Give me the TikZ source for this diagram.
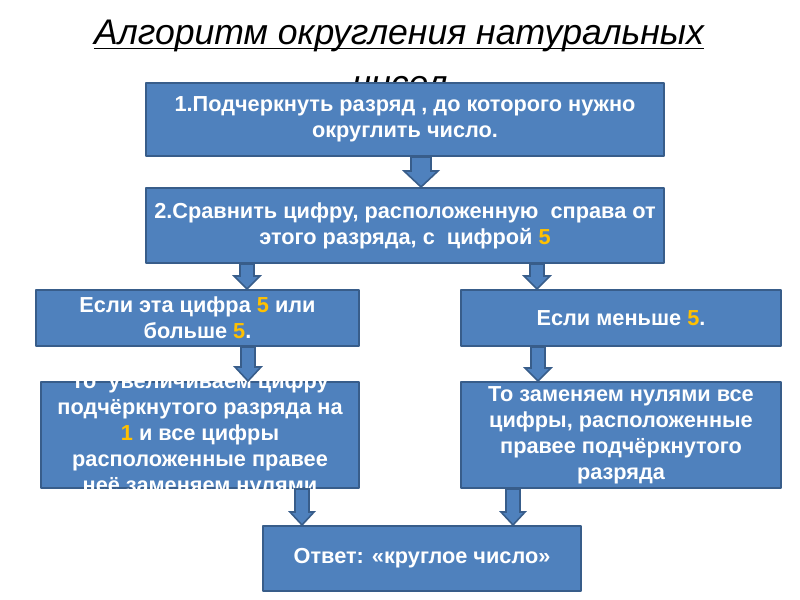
\documentclass[tikz,border=0pt]{standalone}
\usepackage{fontspec}
\setmainfont{Liberation Sans}
\usetikzlibrary{calc}
\definecolor{boxfill}{HTML}{4F81BD}
\definecolor{boxline}{HTML}{385D8A}
\definecolor{yel}{HTML}{FFC000}
\newdimen\px \px=0.75pt
\newcommand{\yl}[1]{\textcolor{yel}{#1}}
\tikzset{
  box/.style={rectangle,fill=boxfill,draw=boxline,line width=1.5pt,anchor=north west,inner sep=0pt},
  txt/.style={text=white,font=\bfseries\fontsize{16.3}{19.6}\selectfont,align=center,inner sep=0pt},
  blockarr/.style={fill=boxfill,draw=boxline,line width=1.2pt,line join=miter}
}
\begin{document}
\begin{tikzpicture}[x=.75pt,y=-.75pt,line join=round]
	\useasboundingbox (0,0) rectangle (800,600);
	% tiêu đề (dòng thứ hai nằm dưới khối 1)
	\node[inner sep=0pt,font=\itshape\fontsize{26.7}{32}\selectfont,anchor=base] (tl1) at (399,44) {Алгоритм округления натуральных};
	\node[inner sep=0pt,font=\itshape\fontsize{26.7}{32}\selectfont,anchor=base] (tl2) at (400,95) {чисел};
	\draw[line width=1.1pt] ([yshift=-3.2pt]tl1.base west) -- ([yshift=-3.2pt]tl1.base east);
	\draw[line width=1.1pt] ([yshift=-3.2pt]tl2.base west) -- ([yshift=-3.2pt]tl2.base east);
	% các khối
	\node[box,minimum width=518\px,minimum height=73\px] (b1) at (145,82) {};
	\node[box,minimum width=518\px,minimum height=75\px] (b2) at (145,187) {};
	\node[box,minimum width=323\px,minimum height=56\px] (b3l) at (35,289) {};
	\node[box,minimum width=320\px,minimum height=56\px] (b3r) at (460,289) {};
	\node[box,minimum width=318\px,minimum height=106\px] (b4l) at (40,381) {};
	\node[box,minimum width=320\px,minimum height=106\px] (b4r) at (460,381) {};
	\node[box,minimum width=318\px,minimum height=65\px] (b5) at (262,525) {};
	% chữ trong khối
	\node[txt] (t1) at (b1) {1.Подчеркнуть разряд , до которого нужно\\округлить число.};
	\node[txt] (t2) at (b2) {2.Сравнить цифру, расположенную\ \ справа от\\этого разряда, с\ \ цифрой \yl{5}};
	\node[txt] (t3l) at (b3l) {Если эта цифра \yl{5} или\\больше \yl{5}.};
	\node[txt] (t3r) at (b3r) {Если меньше \yl{5}.};
	\node[txt] (t4l) at (b4l) {То\ \ увеличиваем цифру\\подчёркнутого разряда на\\\yl{1} и все цифры\\расположенные правее\\неё заменяем нулями};
	\node[txt] (t4r) at (b4r) {То заменяем нулями все\\цифры, расположенные\\правее подчёркнутого\\разряда};
	\node[txt] (t5) at (b5) {Ответ: «круглое число»};
	% mũi tên khối
	\foreach \x/\a/\b/\w/\h/\l in {421/b1/b2/10/17/16,247/b2/b3l/7/13/13,537/b2/b3r/7/13/13,
		248/b3l/b4l/7/13/14,538/b3r/b4r/7/13/13,302/b4l/b5/7/12/13,513/b4r/b5/7/12/13}{
		\draw[blockarr] (\a.south -| \x,0) ++(-\w,0) -- ++(2*\w,0)
			-- ($(\b.north -| \x,0)+(\w,-\l)$) -- ++(\h-\w,0) -- (\b.north -| \x,0)
			-- ++(-\h,-\l) -- ++(\h-\w,0) -- cycle;}
\end{tikzpicture}
\end{document}
